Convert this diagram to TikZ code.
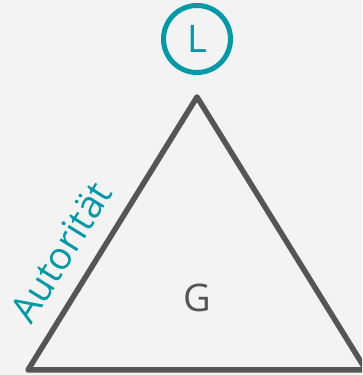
\documentclass[tikz,border=0pt]{standalone}
\usepackage{fontspec}
\setmainfont{Open Sans}
\definecolor{bg}{HTML}{F3F3F3}
\definecolor{teal}{HTML}{0099A8}
\definecolor{edge}{HTML}{555555}
\begin{document}
\begin{tikzpicture}[x=1pt,y=1pt,
  side/.style={draw=edge,line width=5.5pt,line join=round},
  lbl/.style={text=edge,font=\fontsize{38}{38}\selectfont,inner sep=0pt},
  leader/.style={circle,draw=teal,line width=5pt,minimum size=67pt,inner sep=0pt,text=teal,font=\fontsize{38}{38}\selectfont}]
\fill[bg] (0,0) rectangle (362,375);
\useasboundingbox (0,0) rectangle (362,375);
\clip (0,0) rectangle (362,375);
\coordinate (top) at (197,278);
\coordinate (bl) at (28,5);
\coordinate (br) at (366,5);
\draw[side] (top) -- (bl) -- (br) -- cycle;
\node[leader] (L) at (197,336) {L};
\node[lbl] (G) at (197,77) {G};
\node[lbl,text=teal,rotate=58.2] (A) at (61,123) {Autorität};
\end{tikzpicture}
\end{document}
